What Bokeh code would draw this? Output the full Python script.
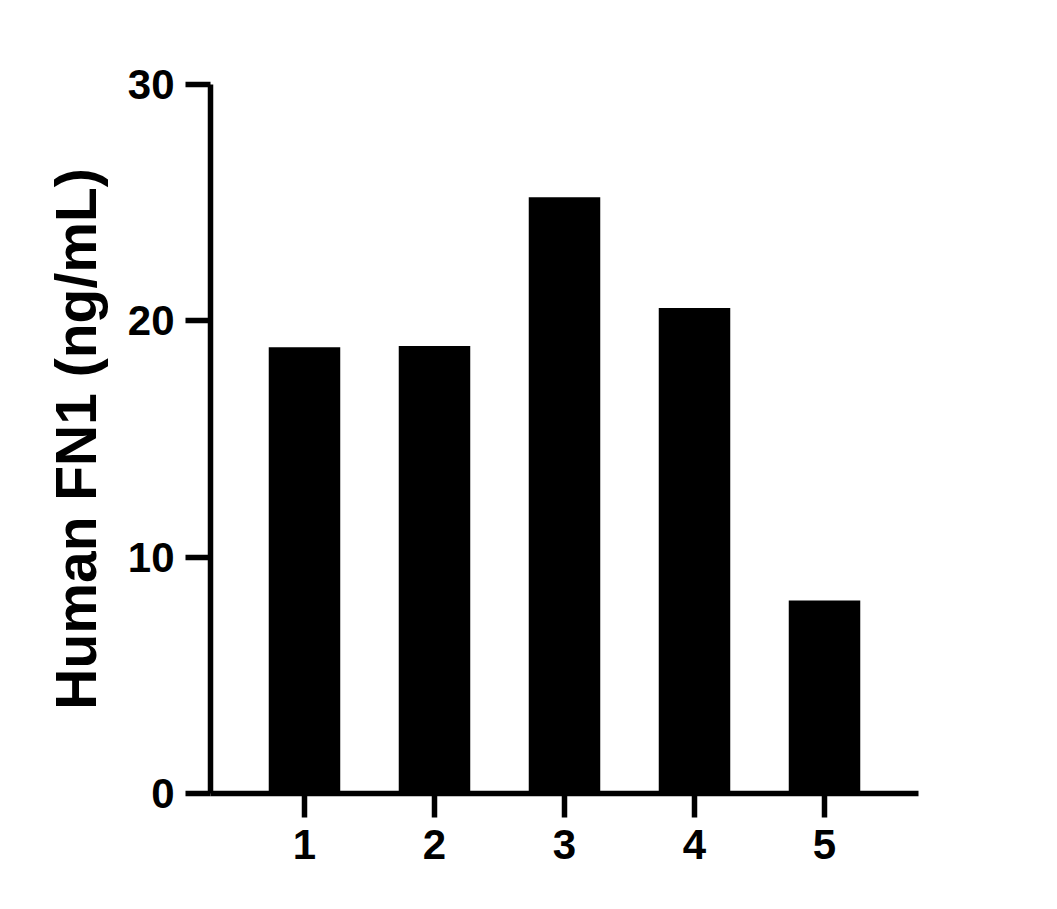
from bokeh.plotting import figure
from bokeh.models import Range1d, FixedTicker
from bokeh.embed import file_html
from bokeh.resources import INLINE

# Data
samples = [1, 2, 3, 4, 5]
values = [18.88, 18.93, 25.23, 20.54, 8.17]
y_ticks = [0, 10, 20, 30]
y_label = "Human FN1 (ng/mL)"

FONT = "Liberation Sans"

p = figure(width=1040, height=893, output_backend="svg", toolbar_location=None,
           x_range=Range1d(0.277, 5.723), y_range=Range1d(0, 30),
           min_border_left=210, min_border_top=84, min_border_right=122, min_border_bottom=100)

p.vbar(x=samples, top=values, width=0.55, fill_color="black", line_color=None)

p.grid.visible = False
p.outline_line_color = None
p.background_fill_color = "white"
p.border_fill_color = "white"

for ax in (p.xaxis[0], p.yaxis[0]):
    ax.axis_line_width = 5.5
    ax.axis_line_color = "black"
    ax.major_tick_line_width = 5.5
    ax.major_tick_line_color = "black"
    ax.major_tick_in = 0
    ax.minor_tick_line_color = None
    ax.major_label_text_font = FONT
    ax.major_label_text_font_style = "bold"
    ax.major_label_text_font_size = "42px"
    ax.major_label_text_color = "black"

p.xaxis.ticker = FixedTicker(ticks=samples)
p.xaxis.major_tick_out = 24
p.xaxis.major_label_standoff = 12

p.yaxis.ticker = FixedTicker(ticks=y_ticks)
p.yaxis.major_tick_out = 25
p.yaxis.major_label_standoff = 11
p.yaxis.axis_label = y_label
p.yaxis.axis_label_text_font = FONT
p.yaxis.axis_label_text_font_style = "bold"
p.yaxis.axis_label_text_font_size = "57px"
p.yaxis.axis_label_text_color = "black"
p.yaxis.axis_label_standoff = 17

open("out.html", "w").write(file_html(p, INLINE))
